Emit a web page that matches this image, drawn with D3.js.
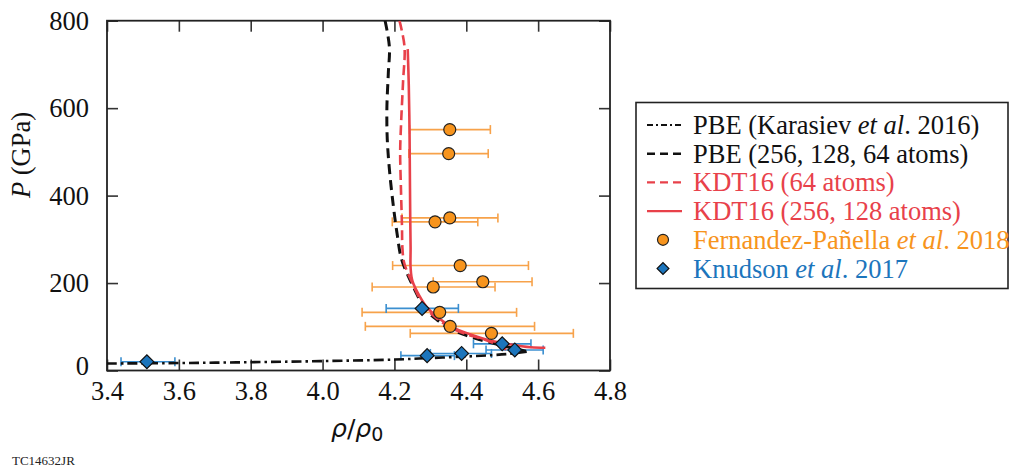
<!DOCTYPE html>
<html>
<head>
<meta charset="utf-8">
<script src="https://cdn.jsdelivr.net/npm/d3@7"></script>
<style>
  body { margin: 0; background: #fff; }
  svg { display: block; }
  text { font-family: "Liberation Serif", "Times New Roman", Times, "DejaVu Serif", serif; }
</style>
</head>
<body>
<svg width="1011" height="468"></svg>
<script>
// PBE (Karasiev et al. 2016) curve: [rho/rho0, P]
const pbeKarasiev = [[3.40, 16], [3.60, 17], [3.80, 19], [4.00, 21.5], [4.20, 25], [4.30, 28.5],
  [4.40, 32], [4.47, 35], [4.52, 38], [4.57, 43]];
// PBE (256, 128, 64 atoms)
const pbeAtoms = [[4.174, 800], [4.186, 740], [4.183, 680], [4.179, 600], [4.180, 530], [4.186, 460],
  [4.195, 390], [4.207, 315], [4.220, 254], [4.243, 208], [4.270, 162], [4.285, 139], [4.317, 117],
  [4.344, 100], [4.390, 83], [4.436, 71], [4.490, 59], [4.566, 44]];
// KDT16 (64 atoms)
const kdt64 = [[4.214, 800], [4.228, 741], [4.224, 660], [4.219, 574], [4.216, 500], [4.218, 420],
  [4.221, 330], [4.222, 284], [4.226, 250], [4.236, 225], [4.250, 200], [4.270, 165], [4.290, 140],
  [4.320, 118], [4.350, 101], [4.400, 83], [4.450, 71], [4.490, 58], [4.510, 48], [4.520, 40]];
// KDT16 (256, 128 atoms)
const kdt256 = [[4.237, 735], [4.240, 650], [4.242, 550], [4.243, 450], [4.244, 350], [4.245, 280],
  [4.245, 235], [4.250, 205], [4.270, 170], [4.290, 145], [4.320, 122], [4.360, 100], [4.410, 83],
  [4.460, 70], [4.520, 60], [4.580, 53], [4.620, 52]];
// Fernandez-Pañella et al. 2018: [rho, P], with rho error range
const fernandez = [[4.354, 551], [4.351, 496], [4.354, 349], [4.313, 340], [4.383, 240], [4.446, 203],
  [4.308, 191], [4.326, 133], [4.355, 101], [4.470, 85]];
const fernandezLo = [4.242, 4.240, 4.221, 4.194, 4.195, 4.308, 4.138, 4.110, 4.119, 4.244];
const fernandezHi = [4.467, 4.461, 4.488, 4.432, 4.573, 4.583, 4.480, 4.540, 4.590, 4.698];
// Knudson et al. 2017
const knudson = [[3.511, 20], [4.277, 142], [4.291, 34], [4.387, 39], [4.500, 61], [4.535, 47]];
const knudsonLo = [3.439, 4.177, 4.218, 4.300, 4.420, 4.455];
const knudsonHi = [3.589, 4.378, 4.367, 4.470, 4.580, 4.614];

const xTicks = [3.4, 3.6, 3.8, 4.0, 4.2, 4.4, 4.6, 4.8];
const yTicks = [0, 200, 400, 600, 800];

const serif = "'Liberation Serif', 'Times New Roman', Times, 'DejaVu Serif', serif";
const svg = d3.select("svg");
const x = d3.scaleLinear().domain([3.4, 4.8]).range([107, 610]);
const y = d3.scaleLinear().domain([0, 800]).range([370.5, 20.7]);
const orange = "#f7941d", blue = "#1c75bc", red = "#e8414a";

const plot = svg.append("g");
plot.append("defs").append("clipPath").attr("id", "clip")
  .append("rect").attr("x", 107).attr("y", 20.7).attr("width", 503).attr("height", 349.8);

// axes, ticks pointing inward
const axisStyle = g => {
  g.attr("font-family", null);
  g.select(".domain").remove();
  g.selectAll(".tick line").attr("stroke", "#333").attr("stroke-width", 1.6);
  g.selectAll(".tick text").attr("fill", "#111").attr("font-size", 26.5).style("font-family", serif);
};
plot.append("g").attr("transform", `translate(0,${y(0)})`)
  .call(d3.axisBottom(x).tickValues(xTicks).tickFormat(d3.format(".1f")).tickSize(-11).tickPadding(11))
  .call(axisStyle);
plot.append("g").attr("transform", `translate(0,${y(800)})`)
  .call(d3.axisTop(x).tickValues(xTicks).tickFormat("").tickSize(-11))
  .call(axisStyle);
const yAxis = plot.append("g").attr("transform", `translate(${x(3.4)},0)`)
  .call(d3.axisLeft(y).tickValues(yTicks).tickSize(-11).tickPadding(18))
  .call(axisStyle);
yAxis.selectAll(".tick text").filter(d => d === 0).attr("y", -4);
plot.append("g").attr("transform", `translate(${x(4.8)},0)`)
  .call(d3.axisRight(y).tickValues(yTicks).tickFormat("").tickSize(-11))
  .call(axisStyle);

plot.append("rect")
  .attr("x", x(3.4)).attr("y", y(800))
  .attr("width", x(4.8) - x(3.4)).attr("height", y(0) - y(800))
  .attr("fill", "none").attr("stroke", "#222").attr("stroke-width", 1.8);

// error bars
function errorBars(data, lo, hi, color) {
  const g = plot.append("g").attr("stroke", color).attr("stroke-width", 1.6).attr("fill", "none");
  data.forEach((d, i) => {
    g.append("line").attr("x1", x(lo[i])).attr("x2", x(hi[i])).attr("y1", y(d[1])).attr("y2", y(d[1]));
    [lo[i], hi[i]].forEach(v => g.append("line")
      .attr("x1", x(v)).attr("x2", x(v)).attr("y1", y(d[1]) - 4.5).attr("y2", y(d[1]) + 4.5));
  });
}
errorBars(fernandez, fernandezLo, fernandezHi, "#f7a24a");
errorBars(knudson, knudsonLo, knudsonHi, "#3b8fd0");

// curves
const line = d3.line().x(d => x(d[0])).y(d => y(d[1])).curve(d3.curveCatmullRom.alpha(0.5));
const curves = [
  { data: pbeKarasiev, color: "#111", dash: "10,4,2.5,4", width: 2.6 },
  { data: pbeAtoms, color: "#111", dash: "10,6", width: 3 },
  { data: kdt256, color: red, dash: null, width: 2.6 },
  { data: kdt64, color: red, dash: "10,5", width: 2.6 }
];
curves.forEach(c => {
  plot.append("path").datum(c.data)
    .attr("clip-path", "url(#clip)")
    .attr("d", line)
    .attr("fill", "none")
    .attr("stroke", c.color)
    .attr("stroke-width", c.width)
    .attr("stroke-dasharray", c.dash);
});

// markers
plot.append("g").selectAll("circle").data(fernandez).join("circle")
  .attr("cx", d => x(d[0])).attr("cy", d => y(d[1])).attr("r", 6)
  .attr("fill", orange).attr("stroke", "#222").attr("stroke-width", 1.2);
const diamond = d3.symbol(d3.symbolSquare, 96);
plot.append("g").selectAll("path").data(knudson).join("path")
  .attr("d", diamond)
  .attr("transform", d => `translate(${x(d[0])},${y(d[1])}) rotate(45)`)
  .attr("fill", blue).attr("stroke", "#111").attr("stroke-width", 1.2);

// axis titles
svg.append("text")
  .attr("transform", "translate(30,155) rotate(-90)")
  .attr("text-anchor", "middle").attr("font-size", 26.5).attr("fill", "#111")
  .call(t => {
    t.append("tspan").attr("font-style", "italic").text("P");
    t.append("tspan").text(" (GPa)");
  });
svg.append("text")
  .attr("x", 331).attr("y", 437)
  .attr("font-size", 25).attr("fill", "#111")
  .style("font-family", "DejaVu Sans, sans-serif")
  .call(t => {
    t.append("tspan").attr("font-style", "italic").text("ρ");
    t.append("tspan").text("/");
    t.append("tspan").attr("font-style", "italic").text("ρ");
    t.append("tspan").attr("font-size", 19).attr("dy", 4).text("0");
  });
svg.append("text").attr("x", 12).attr("y", 465).attr("font-size", 13).attr("fill", "#222").text("TC14632JR");

// legend
const legend = svg.append("g");
legend.append("rect").attr("x", 636).attr("y", 102.5).attr("width", 372).attr("height", 186)
  .attr("fill", "#fff").attr("stroke", "#222").attr("stroke-width", 1.6);
const legendItems = [
  { type: "line", color: "#111", dash: "6,3,2,3", width: 2.2, parts: [["PBE (Karasiev ", false], ["et al", true], [". 2016)", false]], textColor: "#111" },
  { type: "line", color: "#111", dash: "8,5", width: 2.6, parts: [["PBE (256, 128, 64 atoms)", false]], textColor: "#111" },
  { type: "line", color: red, dash: "8,5", width: 2.2, parts: [["KDT16 (64 atoms)", false]], textColor: red },
  { type: "line", color: red, dash: null, width: 2.2, parts: [["KDT16 (256, 128 atoms)", false]], textColor: red },
  { type: "circle", parts: [["Fernandez-Pañella ", false], ["et al", true], [". 2018", false]], textColor: orange },
  { type: "diamond", parts: [["Knudson ", false], ["et al", true], [". 2017", false]], textColor: blue }
];
legendItems.forEach((item, i) => {
  const cy = 125 + i * 28.7;
  if (item.type === "line") {
    legend.append("line").attr("x1", 647).attr("x2", 682).attr("y1", cy).attr("y2", cy)
      .attr("stroke", item.color).attr("stroke-width", item.width).attr("stroke-dasharray", item.dash);
  } else if (item.type === "circle") {
    legend.append("circle").attr("cx", 663).attr("cy", cy).attr("r", 5.5)
      .attr("fill", orange).attr("stroke", "#222").attr("stroke-width", 1.2);
  } else {
    legend.append("path").attr("d", d3.symbol(d3.symbolSquare, 70))
      .attr("transform", `translate(663,${cy}) rotate(45)`)
      .attr("fill", blue).attr("stroke", "#111").attr("stroke-width", 1.2);
  }
  const t = legend.append("text").attr("x", 693).attr("y", cy + 9)
    .attr("font-size", 26.5).attr("fill", item.textColor);
  item.parts.forEach(p => t.append("tspan").attr("font-style", p[1] ? "italic" : null).text(p[0]));
});
</script>
</body>
</html>
